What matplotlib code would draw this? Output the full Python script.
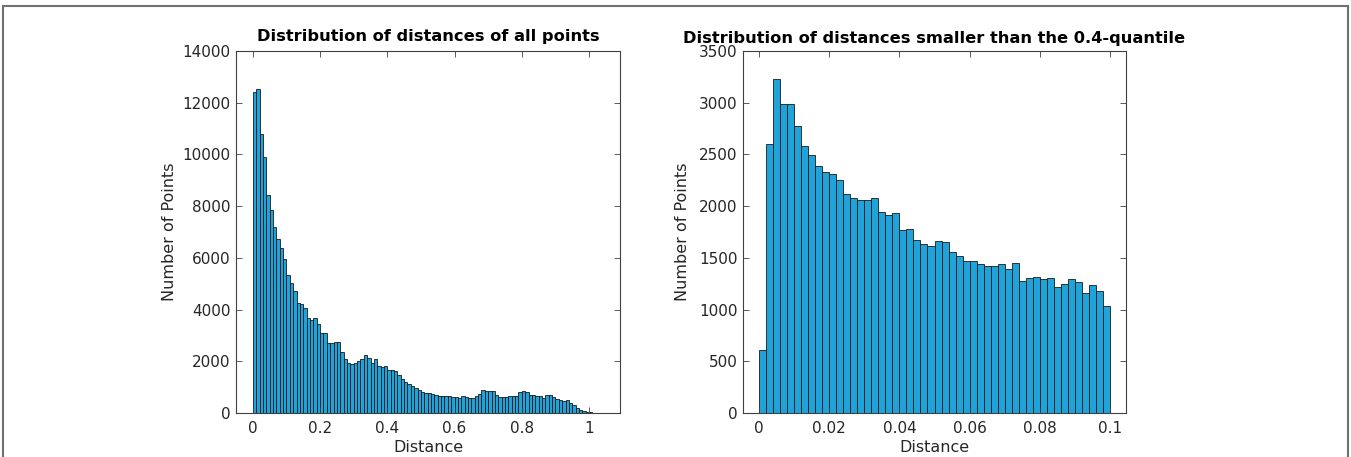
import numpy as np
import matplotlib
matplotlib.use("Agg")
import matplotlib.pyplot as plt
from matplotlib.patches import Rectangle

# histogram of all distances, bins of 0.01 starting at 0
bin_all = 0.01
counts_all = [12400, 12530, 10780, 9900, 8430, 7840, 7210, 6740, 6370, 5970,
              5340, 5010, 4720, 4270, 4200, 4050, 3660, 3580, 3680, 3440,
              3090, 3090, 2720, 2720, 2750, 2740, 2340, 2100, 1930, 1900,
              1930, 2020, 2090, 2230, 2120, 1930, 2100, 1800, 1760, 1800,
              1670, 1650, 1620, 1480, 1310, 1200, 1110, 1040, 980, 880,
              820, 770, 770, 730, 710, 640, 640, 640, 640, 630,
              630, 570, 650, 620, 570, 590, 660, 750, 900, 870,
              860, 860, 710, 630, 630, 630, 640, 650, 670, 820,
              870, 830, 710, 690, 660, 650, 590, 690, 700, 620,
              540, 500, 470, 510, 390, 300, 200, 130, 70, 30,
              25, 12, 8]

# histogram of distances below the 0.4-quantile, bins of 0.002
bin_small = 0.002
counts_small = [610, 2600, 3230, 2985, 2990, 2775, 2580, 2490, 2390, 2330,
                2315, 2250, 2120, 2080, 2055, 2058, 2078, 1943, 1917, 1933,
                1773, 1779, 1673, 1635, 1618, 1667, 1650, 1555, 1522, 1468,
                1468, 1436, 1424, 1420, 1443, 1392, 1449, 1274, 1309, 1318,
                1299, 1302, 1219, 1248, 1296, 1267, 1159, 1235, 1184, 1034]

xticks_all = [0, 0.2, 0.4, 0.6, 0.8, 1]
xticklabels_all = ["0", "0.2", "0.4", "0.6", "0.8", "1"]
xticks_small = [0, 0.02, 0.04, 0.06, 0.08, 0.1]
xticklabels_small = ["0", "0.02", "0.04", "0.06", "0.08", "0.1"]

face = "#1fa3d8"
edge = "#1a1a1a"
axcol = "#404040"

fig = plt.figure(figsize=(13.51, 4.57), dpi=100)
W, H = 1351, 457


def style(ax):
    for s in ax.spines.values():
        s.set_color(axcol)
        s.set_linewidth(0.8)
    ax.tick_params(direction="in", length=4, width=0.6, color=axcol,
                   labelsize=11, labelcolor="#262626", top=True, right=True)
    ax.tick_params(axis="x", pad=6)
    ax.tick_params(axis="y", pad=4)


ax1 = fig.add_axes([236 / W, 1 - 413 / H, 384 / W, 362 / H])
edges = np.arange(len(counts_all)) * bin_all
ax1.bar(edges, counts_all, width=bin_all, align="edge", color=face,
        edgecolor=edge, linewidth=0.6)
ax1.set_xlim(-0.05, 1.092)
ax1.set_ylim(0, 14000)
ax1.set_yticks(np.arange(0, 14001, 2000))
ax1.set_xticks(xticks_all)
ax1.set_xticklabels(xticklabels_all)
style(ax1)
ax1.set_xlabel("Distance", fontsize=11.5, color="#262626", labelpad=3)
ax1.set_ylabel("Number of Points", fontsize=11.5, color="#262626", labelpad=4)
ax1.set_title("Distribution of distances of all points", fontsize=11.7,
              fontweight="bold", pad=7)

ax2 = fig.add_axes([743 / W, 1 - 413 / H, 383 / W, 362 / H])
edges2 = np.arange(len(counts_small)) * bin_small
ax2.bar(edges2, counts_small, width=bin_small, align="edge", color=face,
        edgecolor=edge, linewidth=0.6)
ax2.set_xlim(-0.0046, 0.1046)
ax2.set_ylim(0, 3500)
ax2.set_yticks(np.arange(0, 3501, 500))
ax2.set_xticks(xticks_small)
ax2.set_xticklabels(xticklabels_small)
style(ax2)
ax2.set_xlabel("Distance", fontsize=11.5, color="#262626", labelpad=3)
ax2.set_ylabel("Number of Points", fontsize=11.5, color="#262626", labelpad=6)
ax2.set_title("Distribution of distances smaller than the 0.4-quantile",
              fontsize=11.7, fontweight="bold", pad=5.5)

# grey frame around the figure (no bottom edge visible)
fig.add_artist(Rectangle((3 / W, -0.05), (1348 - 3) / W, 1 - 6 / H + 0.05,
                         transform=fig.transFigure, fill=False,
                         edgecolor="#707070", linewidth=1.5))

fig.savefig("out.png", dpi=100)
